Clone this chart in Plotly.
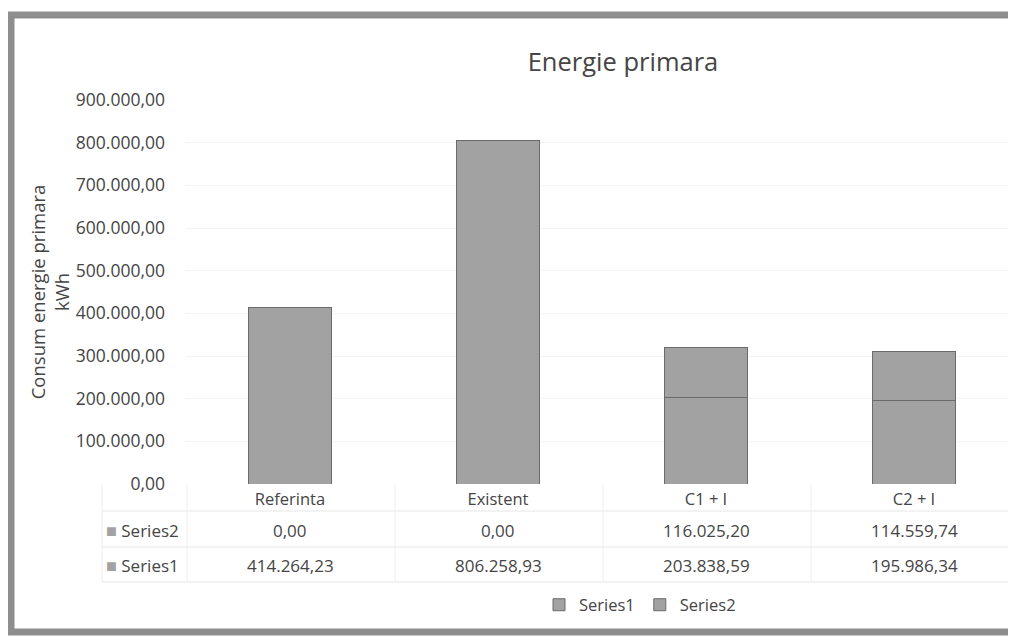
import plotly.graph_objects as go

categories = ["Referinta", "Existent", "C1 + I", "C2 + I"]
series1 = [414264.23, 806258.93, 203838.59, 195986.34]
series2 = [0.00, 0.00, 116025.20, 114559.74]
series_names = ["Series1", "Series2"]
y_ticks = [0, 100000, 200000, 300000, 400000, 500000, 600000, 700000, 800000, 900000]

FONT = "Open Sans, sans-serif"
TXT = "#454545"
BAR = "#a2a2a2"

# page offset (body margin) and layout in reference pixels
OFF = 8
W, H = 1016, 640
L_ref, T_ref, B_ref = 186, 100, 484
L, T, B = L_ref - OFF, T_ref - OFF, B_ref - OFF
pw, ph = W - L, B - T
CAT_W = 208.0  # pixels per category
x_hi = -0.5 + pw / CAT_W


def px(x):
    return (x - OFF - L) / pw


def py(y):
    return (B - (y - OFF)) / ph


def fmt(v):
    s = f"{v:,.2f}"
    return s.replace(",", "X").replace(".", ",").replace("X", ".")


fig = go.Figure()
for name, vals in zip(series_names, [series1, series2]):
    fig.add_trace(go.Bar(
        x=categories, y=vals, name=name, width=0.4,
        marker=dict(color=BAR, line=dict(color="#6a6a6a", width=1)),
    ))

annotations = []
shapes = []
rows = [("Series2", series2, 530), ("Series1", series1, 565)]
for label, vals, ypix in rows:
    annotations.append(dict(
        x=px(104), y=py(ypix), xref="paper", yref="paper", xanchor="left", yanchor="middle",
        text=f"<span style='color:{BAR};font-size:18px'>■</span> {label}", showarrow=False,
        font=dict(family=FONT, size=17, color=TXT)))
    for c, v in zip(categories, vals):
        annotations.append(dict(
            x=c, y=py(ypix), xref="x", yref="paper", xanchor="center", yanchor="middle",
            text=fmt(v), showarrow=False, font=dict(family=FONT, size=17, color=TXT)))

for ypix in [511, 547, 582]:
    shapes.append(dict(type="line", xref="paper", yref="paper", x0=px(102), x1=1.0,
                       y0=py(ypix), y1=py(ypix), line=dict(color="#e6e6e6", width=1)))
for xpix in [102, 187, 395, 603, 811]:
    shapes.append(dict(type="line", xref="paper", yref="paper", x0=px(xpix), x1=px(xpix),
                       y0=py(484), y1=py(582), line=dict(color="#ededed", width=1)))

# frame border
shapes.append(dict(type="rect", xref="paper", yref="paper", x0=px(11), x1=px(1040),
                   y0=py(632), y1=py(15), line=dict(color="#8e8e8e", width=7)))

fig.update_layout(
    width=W, height=H,
    margin=dict(l=L, r=0, t=T, b=H - B),
    paper_bgcolor="white", plot_bgcolor="white",
    barmode="stack", separators=",.",
    title=dict(text="Energie primara", xref="container", x=(623 - OFF) / W, xanchor="center",
               y=1 - (62 - OFF) / H, yanchor="middle",
               font=dict(family=FONT, size=25.5, color=TXT)),
    font=dict(family=FONT, color=TXT),
    xaxis=dict(range=[-0.5, x_hi], showgrid=False, showline=False, ticks="",
               ticklabelstandoff=3,
               tickfont=dict(family=FONT, size=16.5, color=TXT)),
    yaxis=dict(range=[0, 900000], tickvals=y_ticks, tickformat=",.2f", showgrid=True,
               gridcolor="#f3f3f3", zeroline=False, showline=False, ticks="",
               ticklabelstandoff=20,
               tickfont=dict(family=FONT, size=17.5, color=TXT),
               title=dict(text="Consum energie primara<br>kWh", standoff=1,
                          font=dict(family=FONT, size=18.5, color=TXT))),
    legend=dict(orientation="h", x=px(640), xanchor="center", y=py(605), yanchor="middle",
                font=dict(family=FONT, size=16.5, color=TXT), traceorder="normal",
                itemwidth=30),
    annotations=annotations, shapes=shapes,
)

fig.write_html("out.html")
